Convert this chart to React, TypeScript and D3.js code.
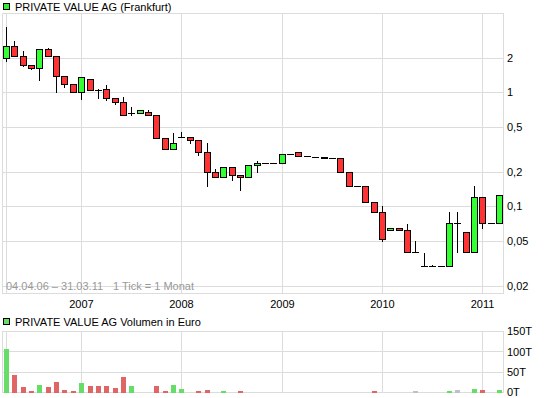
import React from 'react';
import * as d3 from 'd3';

// monthly candles, 04.2006 - 03.2011
const months = [
  '2006-04', '2006-05', '2006-06', '2006-07', '2006-08', '2006-09', '2006-10', '2006-11', '2006-12',
  '2007-01', '2007-02', '2007-03', '2007-04', '2007-05', '2007-06', '2007-07', '2007-08', '2007-09', '2007-10', '2007-11', '2007-12',
  '2008-01', '2008-02', '2008-03', '2008-04', '2008-05', '2008-06', '2008-07', '2008-08', '2008-09', '2008-10', '2008-11', '2008-12',
  '2009-01', '2009-02', '2009-03', '2009-04', '2009-05', '2009-06', '2009-07', '2009-08', '2009-09', '2009-10', '2009-11', '2009-12',
  '2010-01', '2010-02', '2010-03', '2010-04', '2010-05', '2010-06', '2010-07', '2010-08', '2010-09', '2010-10', '2010-11', '2010-12',
  '2011-01', '2011-02', '2011-03',
];

const opens = [
  2.01, 2.57, 2.09, 1.74, 1.64, 2.41, 2.09, 1.40, 1.19,
  1.00, 1.315, 1.045, 1.074, 0.896, 0.826, 0.661, 0.662, 0.666, 0.636, 0.400, 0.320,
  0.404, 0.408, 0.384, 0.301, 0.201, 0.182, 0.223, 0.189, 0.182, 0.232, 0.241, 0.241,
  0.241, 0.289, 0.301, 0.278, 0.272, 0.269, 0.267, 0.267, 0.201, 0.152, 0.152, 0.110,
  0.090, 0.0615, 0.0641, 0.0615, 0.040, 0.0302, 0.0302, 0.0302, 0.0302, 0.0709, 0.0599, 0.040,
  0.1215, 0.0709, 0.0709,
];
const highs = [
  3.85, 2.85, 2.37, 1.74, 2.41, 2.52, 2.09, 1.40, 1.19,
  1.37, 1.315, 1.096, 1.172, 0.896, 0.925, 0.756, 0.703, 0.707, 0.636, 0.400, 0.447,
  0.454, 0.408, 0.384, 0.366, 0.218, 0.223, 0.223, 0.189, 0.232, 0.253, 0.241, 0.241,
  0.289, 0.289, 0.301, 0.278, 0.272, 0.269, 0.267, 0.267, 0.201, 0.152, 0.152, 0.110,
  0.102, 0.0641, 0.0641, 0.0709, 0.0506, 0.040, 0.0314, 0.0302, 0.0903, 0.0903, 0.0599, 0.1527,
  0.1215, 0.0728, 0.1265,
];
const lows = [
  1.875, 2.09, 1.695, 1.586, 1.27, 2.09, 1.003, 1.109, 1.00,
  0.866, 1.053, 0.889, 0.853, 0.794, 0.630, 0.627, 0.662, 0.636, 0.400, 0.320, 0.320,
  0.404, 0.361, 0.280, 0.1505, 0.182, 0.182, 0.170, 0.139, 0.182, 0.1996, 0.241, 0.241,
  0.241, 0.289, 0.278, 0.278, 0.272, 0.267, 0.267, 0.201, 0.152, 0.152, 0.110, 0.090,
  0.0496, 0.0615, 0.0615, 0.040, 0.040, 0.0302, 0.0302, 0.0302, 0.0302, 0.040, 0.040, 0.040,
  0.065, 0.0709, 0.0709,
];
const closes = [
  2.57, 2.09, 1.74, 1.64, 2.41, 2.09, 1.385, 1.19, 1.00,
  1.37, 1.053, 1.044, 0.896, 0.826, 0.630, 0.662, 0.703, 0.636, 0.400, 0.320, 0.361,
  0.405, 0.384, 0.301, 0.201, 0.182, 0.223, 0.188, 0.182, 0.232, 0.241, 0.241, 0.241,
  0.289, 0.289, 0.278, 0.278, 0.272, 0.267, 0.267, 0.201, 0.152, 0.152, 0.110, 0.090,
  0.052, 0.0641, 0.0615, 0.040, 0.040, 0.0302, 0.0302, 0.0302, 0.0709, 0.0709, 0.040, 0.1215,
  0.0709, 0.0709, 0.1265,
];
// volume in thousand euro
const volumes = [
  107, 42, 14, 4, 19, 14, 27, 6, 4,
  24, 16, 16, 16, 11, 37, 16, 0, 0, 16, 4, 19,
  9, 0, 4, 6, 0, 4, 0, 4, 0, 0, 0, 0,
  0, 0, 0, 0, 0, 0, 0, 0, 0, 0, 0, 4,
  0, 0, 0, 0, 4, 0, 0, 0, 4, 6, 0, 9,
  6, 0, 6,
];

const priceTicks = [2, 1, 0.5, 0.2, 0.1, 0.05, 0.02];
const priceTickLabels = ['2', '1', '0,5', '0,2', '0,1', '0,05', '0,02'];
const volumeTicks = [150, 100, 50, 0];
const volumeTickLabels = ['150T', '100T', '50T', '0T'];
const yearMonths = ['2007-01', '2008-01', '2009-01', '2010-01', '2011-01'];
const yearLabels = ['2007', '2008', '2009', '2010', '2011'];

const FONT = "'Liberation Sans', Arial, sans-serif";
const GRID = '#dcdcdc';
const UP = '#33ff33';
const DOWN = '#ff3333';

export default function App() {
  const W = 545;
  const H = 398;
  const plot = { left: 2.5, right: 503.5, top: 13.5, bottom: 293.5 };
  const vol = { top: 331.5, bottom: 392.5 };

  const x = d3.scaleLinear().domain([0, months.length - 1]).range([6, 499]);
  const cx = (i: number) => Math.round(x(i));
  const y = d3.scaleLog().domain([0.02, 2]).range([286.5, 58.5]);
  const py = (v: number) => Math.round(y(v) - 0.5) + 0.5;
  const yv = d3.scaleLinear().domain([0, 150]).range([vol.bottom, vol.top]);

  const yearIdx = yearMonths.map((m) => months.indexOf(m));
  const vLines = [0, ...yearIdx].map((i) => cx(i) + 0.5);

  return (
    <svg width={W} height={H} style={{ position: 'absolute', left: 0, top: 0, background: '#fff' }}
      fontFamily={FONT} fontSize={11}>
      {/* price legend */}
      <rect x={3.5} y={3.5} width={6} height={6} fill="#33ee33" stroke="#000" shapeRendering="crispEdges" />
      <text x={15} y={10.5} fill="#000">PRIVATE VALUE AG (Frankfurt)</text>

      {/* price grid */}
      <g stroke={GRID} strokeWidth={1} shapeRendering="crispEdges">
        {priceTicks.map((t) => (
          <line key={t} x1={plot.left} x2={plot.right} y1={py(t)} y2={py(t)} />
        ))}
        {vLines.map((vx, k) => (
          <line key={k} x1={vx} x2={vx} y1={plot.top} y2={plot.bottom} />
        ))}
        <rect x={plot.left} y={plot.top} width={plot.right - plot.left} height={plot.bottom - plot.top} fill="none" />
      </g>
      <text x={6} y={290} fill="#999">04.04.06 – 31.03.11</text>
      <text x={113} y={290} fill="#999">1 Tick = 1 Monat</text>

      {/* candles */}
      <g shapeRendering="crispEdges">
        {months.map((m, i) => {
          const c = cx(i);
          const o = opens[i];
          const cl = closes[i];
          const yTop = py(Math.max(o, cl));
          const yBot = py(Math.min(o, cl));
          const wick = (
            <line x1={c + 0.5} x2={c + 0.5} y1={py(highs[i])} y2={py(lows[i])} stroke="#000" />
          );
          if (yBot - yTop < 1) {
            return (
              <g key={m}>
                {wick}
                <line x1={c - 3} x2={c + 4} y1={yTop} y2={yTop} stroke="#000" />
              </g>
            );
          }
          return (
            <g key={m}>
              {wick}
              <rect x={c - 2.5} y={yTop} width={6} height={yBot - yTop}
                fill={cl > o ? UP : DOWN} stroke="#000" />
            </g>
          );
        })}
      </g>

      {/* price axis labels */}
      {priceTicks.map((t, k) => (
        <text key={t} x={507} y={py(t)} dy="0.35em" fill="#000">{priceTickLabels[k]}</text>
      ))}
      {yearIdx.map((i, k) => (
        <text key={k} x={cx(i) + 0.5} y={308} textAnchor="middle" fill="#000">{yearLabels[k]}</text>
      ))}

      {/* volume legend */}
      <rect x={3.5} y={318.5} width={6} height={6} fill="#66dd66" stroke="#000" shapeRendering="crispEdges" />
      <text x={15} y={325.5} fill="#000">PRIVATE VALUE AG Volumen in Euro</text>

      {/* volume grid */}
      <g stroke={GRID} strokeWidth={1} shapeRendering="crispEdges">
        {volumeTicks.map((t) => (
          <line key={t} x1={plot.left} x2={plot.right} y1={Math.round(yv(t) - 0.5) + 0.5} y2={Math.round(yv(t) - 0.5) + 0.5} />
        ))}
        {vLines.map((vx, k) => (
          <line key={k} x1={vx} x2={vx} y1={vol.top} y2={vol.bottom} />
        ))}
        <rect x={plot.left} y={vol.top} width={plot.right - plot.left} height={vol.bottom - vol.top} fill="none" />
      </g>

      {/* volume bars */}
      <g shapeRendering="crispEdges">
        {months.map((m, i) => {
          if (!volumes[i]) return null;
          const c = cx(i);
          const col = closes[i] > opens[i] ? '#66dd66' : closes[i] < opens[i] ? '#e06666' : '#c0c0c0';
          return (
            <rect key={m} x={c - 2} y={yv(volumes[i])} width={5} height={vol.bottom - yv(volumes[i])} fill={col} />
          );
        })}
      </g>

      {volumeTicks.map((t, k) => (
        <text key={t} x={507} y={yv(t)} dy="0.35em" fill="#000">{volumeTickLabels[k]}</text>
      ))}
    </svg>
  );
}
